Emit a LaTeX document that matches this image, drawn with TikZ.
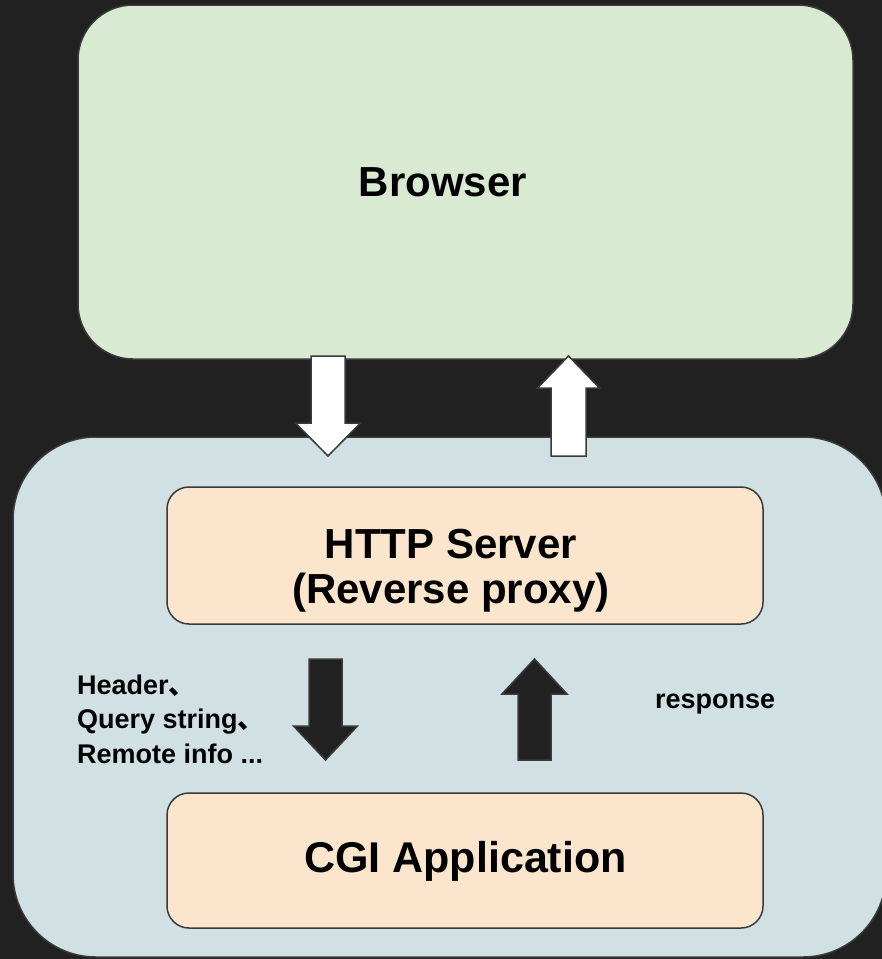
\documentclass[tikz,border=0pt]{standalone}
\usepackage{fontspec}
\setmainfont{Liberation Sans}
\newfontfamily\cjkfont{Noto Sans CJK SC}
\usepackage{xcolor}
\usepackage{tikz}

\definecolor{bgdark}{HTML}{212121}
\definecolor{browsergreen}{HTML}{D9EAD3}
\definecolor{serverblue}{HTML}{D0E0E3}
\definecolor{boxpeach}{HTML}{FCE5CD}
\definecolor{edgegrey}{HTML}{3A3A3A}

% #1 style, #2 centre x, #3 tail y, #4 head base y, #5 half shaft, #6 half head, #7 tip y
\newcommand{\blockarrow}[7]{%
  \filldraw[#1] (#2-#5,#3) -- (#2+#5,#3) -- (#2+#5,#4) -- (#2+#6,#4) -- (#2,#7)
    -- (#2-#6,#4) -- (#2-#5,#4) -- cycle;}

\begin{document}
\begin{tikzpicture}[x=1pt, y=-1pt,
    panel/.style={draw=edgegrey, line width=1.5pt, inner sep=0pt},
    bigtext/.style={font=\bfseries\fontsize{42}{45}\selectfont, inner sep=0pt},
    smalltext/.style={font=\bfseries\fontsize{27}{34.5}\selectfont, inner sep=0pt},
    whitearrow/.style={fill=white, draw=edgegrey, line width=1.5pt},
    darkarrow/.style={fill=bgdark, draw=edgegrey, line width=1.5pt}]
    \useasboundingbox (0,0) rectangle (882,959);
    \fill[bgdark] (0,0) rectangle (882,959);

    \node[panel, fill=browsergreen, minimum width=775, minimum height=354, rounded corners=55] (browser) at (465.5,182) {};
    \node[panel, fill=serverblue, minimum width=873, minimum height=520, rounded corners=83] (server) at (449.5,697) {};
    \node[panel, fill=boxpeach, minimum width=596, minimum height=137, rounded corners=22] (proxy) at (465,555.5) {};
    \node[panel, fill=boxpeach, minimum width=596, minimum height=135, rounded corners=22] (cgi) at (465,860.5) {};

    \node[bigtext, anchor=base] (browsertext) at (443,196) {Browser};
    \node[bigtext, align=center] (proxytext) at (451,571) {HTTP Server\\(Reverse proxy)};
    \node[bigtext, anchor=base, font=\bfseries\fontsize{43}{43}\selectfont] (cgitext) at (465.5,872) {CGI Application};

    \node[smalltext, align=left, anchor=west] (reqtext) at (77,719)
        {Header{\cjkfont 、}\\Query string{\cjkfont 、}\\Remote info ...};
    \node[smalltext, anchor=base west] (resptext) at (655,708) {response};

    \blockarrow{whitearrow}{328}{356}{423}{17}{32.5}{456}
    \blockarrow{whitearrow}{568.5}{456}{388}{17.5}{31}{356}
    \blockarrow{darkarrow}{325.5}{659}{726}{16.5}{32}{760}
    \blockarrow{darkarrow}{534.5}{760}{694}{16.5}{32.5}{659}
\end{tikzpicture}
\end{document}
